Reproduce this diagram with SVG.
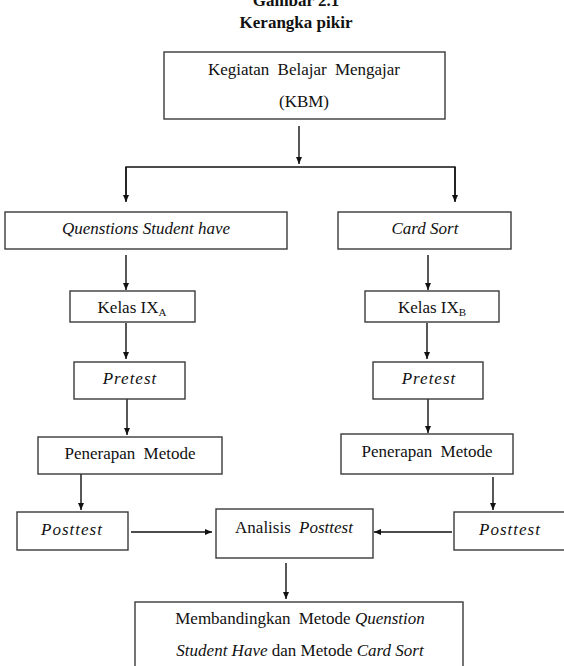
<svg xmlns="http://www.w3.org/2000/svg" width="564" height="666" viewBox="0 0 564 666">
<style>
.box{fill:#fff;stroke:#3a3a3a;stroke-width:1.4}
.t{font-family:"Liberation Serif","Times New Roman",serif;font-size:17px;fill:#111;text-anchor:middle}
.i{font-style:italic}
.b{font-weight:bold}
.c{stroke:#111;stroke-width:1.4;fill:none}
.ca{stroke:#111;stroke-width:1.4;fill:none;marker-end:url(#ah)}
</style>
<defs>
<marker id="ah" markerWidth="7" markerHeight="6" refX="7" refY="3" orient="auto" markerUnits="userSpaceOnUse">
<path d="M0,0 L7,3 L0,6 z" fill="#111"/>
</marker>
</defs>
<rect width="564" height="666" fill="#fff"/>
<g id="title">
<text class="t b" x="296" y="6">Gambar  2.1</text>
<text class="t b" x="296" y="28">Kerangka pikir</text>
</g>
<g id="connectors">
<line class="ca" x1="299" y1="126" x2="299" y2="164"/>
<polyline class="c" points="126,201 126,167 455,167 455,201"/>
<line class="ca" x1="126" y1="167" x2="126" y2="202"/>
<line class="ca" x1="455" y1="167" x2="455" y2="202"/>
<line class="ca" x1="126" y1="255" x2="126" y2="290"/>
<line class="ca" x1="428" y1="255" x2="428" y2="290"/>
<line class="ca" x1="126" y1="323" x2="126" y2="359"/>
<line class="ca" x1="427" y1="323" x2="427" y2="359"/>
<line class="ca" x1="127" y1="399" x2="127" y2="435"/>
<line class="ca" x1="428" y1="399" x2="428" y2="433"/>
<line class="ca" x1="81" y1="474" x2="81" y2="510"/>
<line class="ca" x1="493" y1="477" x2="493" y2="510"/>
<line class="ca" x1="131" y1="532" x2="212" y2="532"/>
<line class="ca" x1="452" y1="532" x2="374" y2="532"/>
<line class="ca" x1="286" y1="563" x2="286" y2="599"/>
</g>
<g id="kbm">
<rect class="box" x="164" y="52" width="281" height="67"/>
<text class="t" x="304" y="75" word-spacing="4">Kegiatan Belajar Mengajar</text>
<text class="t" x="304" y="107">(KBM)</text>
</g>
<g id="qsh">
<rect class="box" x="5" y="212" width="282" height="37"/>
<text class="t i" x="146" y="234">Quenstions Student have</text>
</g>
<g id="cardsort">
<rect class="box" x="338" y="212" width="173" height="37"/>
<text class="t i" x="425" y="234">Card Sort</text>
</g>
<g id="kelasA">
<rect class="box" x="70" y="291" width="125" height="31"/>
<text class="t" x="132" y="313">Kelas IX<tspan font-size="11" dy="3">A</tspan></text>
</g>
<g id="kelasB">
<rect class="box" x="365" y="291" width="134" height="31"/>
<text class="t" x="432" y="313">Kelas IX<tspan font-size="11" dy="3">B</tspan></text>
</g>
<g id="pretestA">
<rect class="box" x="74" y="362" width="111" height="37"/>
<text class="t i" x="130" y="384" letter-spacing="1">Pretest</text>
</g>
<g id="pretestB">
<rect class="box" x="373" y="362" width="110" height="37"/>
<text class="t i" x="429" y="384" letter-spacing="1">Pretest</text>
</g>
<g id="penerapanA">
<rect class="box" x="38" y="437" width="184" height="37"/>
<text class="t" x="130" y="459" word-spacing="4">Penerapan Metode</text>
</g>
<g id="penerapanB">
<rect class="box" x="341" y="434" width="172" height="40"/>
<text class="t" x="427" y="457" word-spacing="4">Penerapan Metode</text>
</g>
<g id="posttestA">
<rect class="box" x="17" y="512" width="111" height="38"/>
<text class="t i" x="72" y="535" letter-spacing="1">Posttest</text>
</g>
<g id="analisis">
<rect class="box" x="216" y="509" width="157" height="49"/>
<text class="t" x="294" y="533" word-spacing="4">Analisis <tspan class="i">Posttest</tspan></text>
</g>
<g id="posttestB">
<rect class="box" x="454" y="512" width="120" height="38"/>
<text class="t i" x="510" y="535" letter-spacing="1">Posttest</text>
</g>
<g id="compare">
<rect class="box" x="135" y="602" width="328" height="70"/>
<text class="t" x="300" y="624"><tspan word-spacing="4">Membandingkan Metode</tspan> <tspan class="i">Quenstion</tspan></text>
<text class="t" x="300" y="656"><tspan class="i">Student Have</tspan> dan Metode <tspan class="i">Card Sort</tspan></text>
</g>
</svg>
